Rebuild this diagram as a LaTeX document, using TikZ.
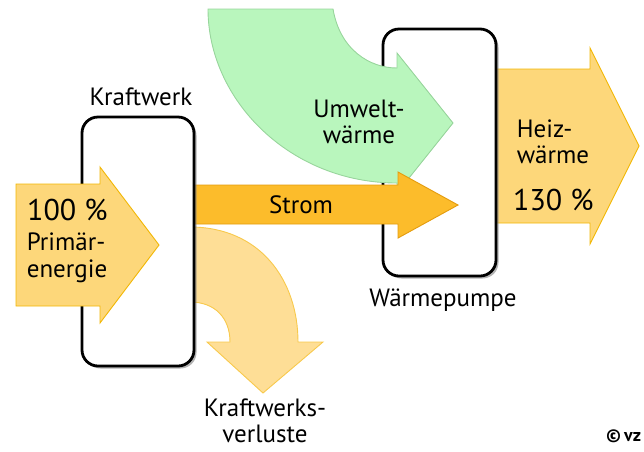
\documentclass[tikz,border=0pt]{standalone}
\usepackage{fontspec}
\setmainfont{PT Sans}
\usetikzlibrary{positioning,shadows}
\definecolor{primfill} {HTML}{FDD77A}
\definecolor{primrand} {HTML}{F2B705}
\definecolor{stromfill}{HTML}{FCBC2B}
\definecolor{stromrand}{HTML}{E49C0E}
\definecolor{verlfill} {HTML}{FEDE96}
\definecolor{verlrand} {HTML}{F8C94C}
\definecolor{umwfill}  {HTML}{B9F6BD}
\definecolor{umwrand}  {HTML}{98D59C}
\tikzset{
  anlage/.style={draw=black,fill=white,line width=2.8pt,rounded corners=16pt,
    drop shadow={shadow xshift=2.5pt,shadow yshift=-2.5pt,opacity=0.6}},
  flussgelb/.style={fill=primfill,draw=primrand,line width=0.9pt},
  flussstrom/.style={fill=stromfill,draw=stromrand,line width=0.9pt},
  flussverl/.style={fill=verlfill,draw=verlrand,line width=0.9pt},
  flussgruen/.style={fill=umwfill,draw=umwrand,line width=0.9pt},
  beschr/.style={font=\fontsize{25}{26.5}\selectfont,inner sep=1pt},
  prozent/.style={font=\fontsize{30}{32}\selectfont,inner sep=1pt}
}

\begin{document}
\begin{tikzpicture}[x=1pt,y=-1pt]
    \useasboundingbox (0,0) rectangle (644,451);
    % Heizwaerme (behind the heat pump)
    \draw[flussgelb] (490,69) -- (590,69) -- (590,48) -- (639,146) -- (590,244) -- (590,223) -- (490,223) -- cycle;
    \node[anlage,minimum width=113pt,minimum height=247pt] (wp) at (439.5,152.5) {};
    \node[beschr] (wplabel) at (443,300) {Wärmepumpe};
    % Umweltwaerme
    \draw[flussgruen] (208,9) -- (333,9) .. controls (340,50) and (370,68) .. (397,68)
      -- (397,53) -- (453,123) -- (397,193) -- (397,183)
      .. controls (290,183) and (208,100) .. (208,9) -- cycle;
    % Strom
    \draw[flussstrom] (190,185) -- (398,185) -- (398,172) -- (458,205) -- (398,238) -- (398,224) -- (190,224) -- cycle;
    % Kraftwerksverluste
    \draw[flussverl] (190,227) .. controls (260,227) and (298,280) .. (298,342)
      -- (323,342) -- (263,393) -- (207,342) -- (230,342)
      .. controls (230,318) and (215,302) .. (190,302) -- cycle;
    \node[anlage,minimum width=112pt,minimum height=249pt] (kw) at (138,241.5) {};
    \node[beschr] (kwlabel) at (141,97) {Kraftwerk};
    % Primaerenergie
    \draw[flussgelb] (16,184) -- (100,184) -- (100,167) -- (159,245) -- (100,323) -- (100,306) -- (16,306) -- cycle;

    \node[prozent,anchor=west] (prim) at (26,210) {100 \%};
    \node[beschr,align=left] (primtext) at (67,258) {Primär-\\energie};
    \node[beschr] (strom) at (301,205) {Strom};
    \node[beschr,align=center] (umw) at (359,122) {Umwelt-\\wärme};
    \node[beschr,align=left] (heiz) at (553,142) {Heiz-\\wärme};
    \node[prozent,anchor=west] (heizproz) at (512,200) {130 \%};
    \node[beschr,align=center] (verl) at (265,421) {Kraftwerks-\\verluste};
    \node[font=\fontsize{18}{20}\selectfont\bfseries,anchor=west,inner sep=0pt] (copy) at (606,436) {©\,vz};
  \end{tikzpicture}
\end{document}
